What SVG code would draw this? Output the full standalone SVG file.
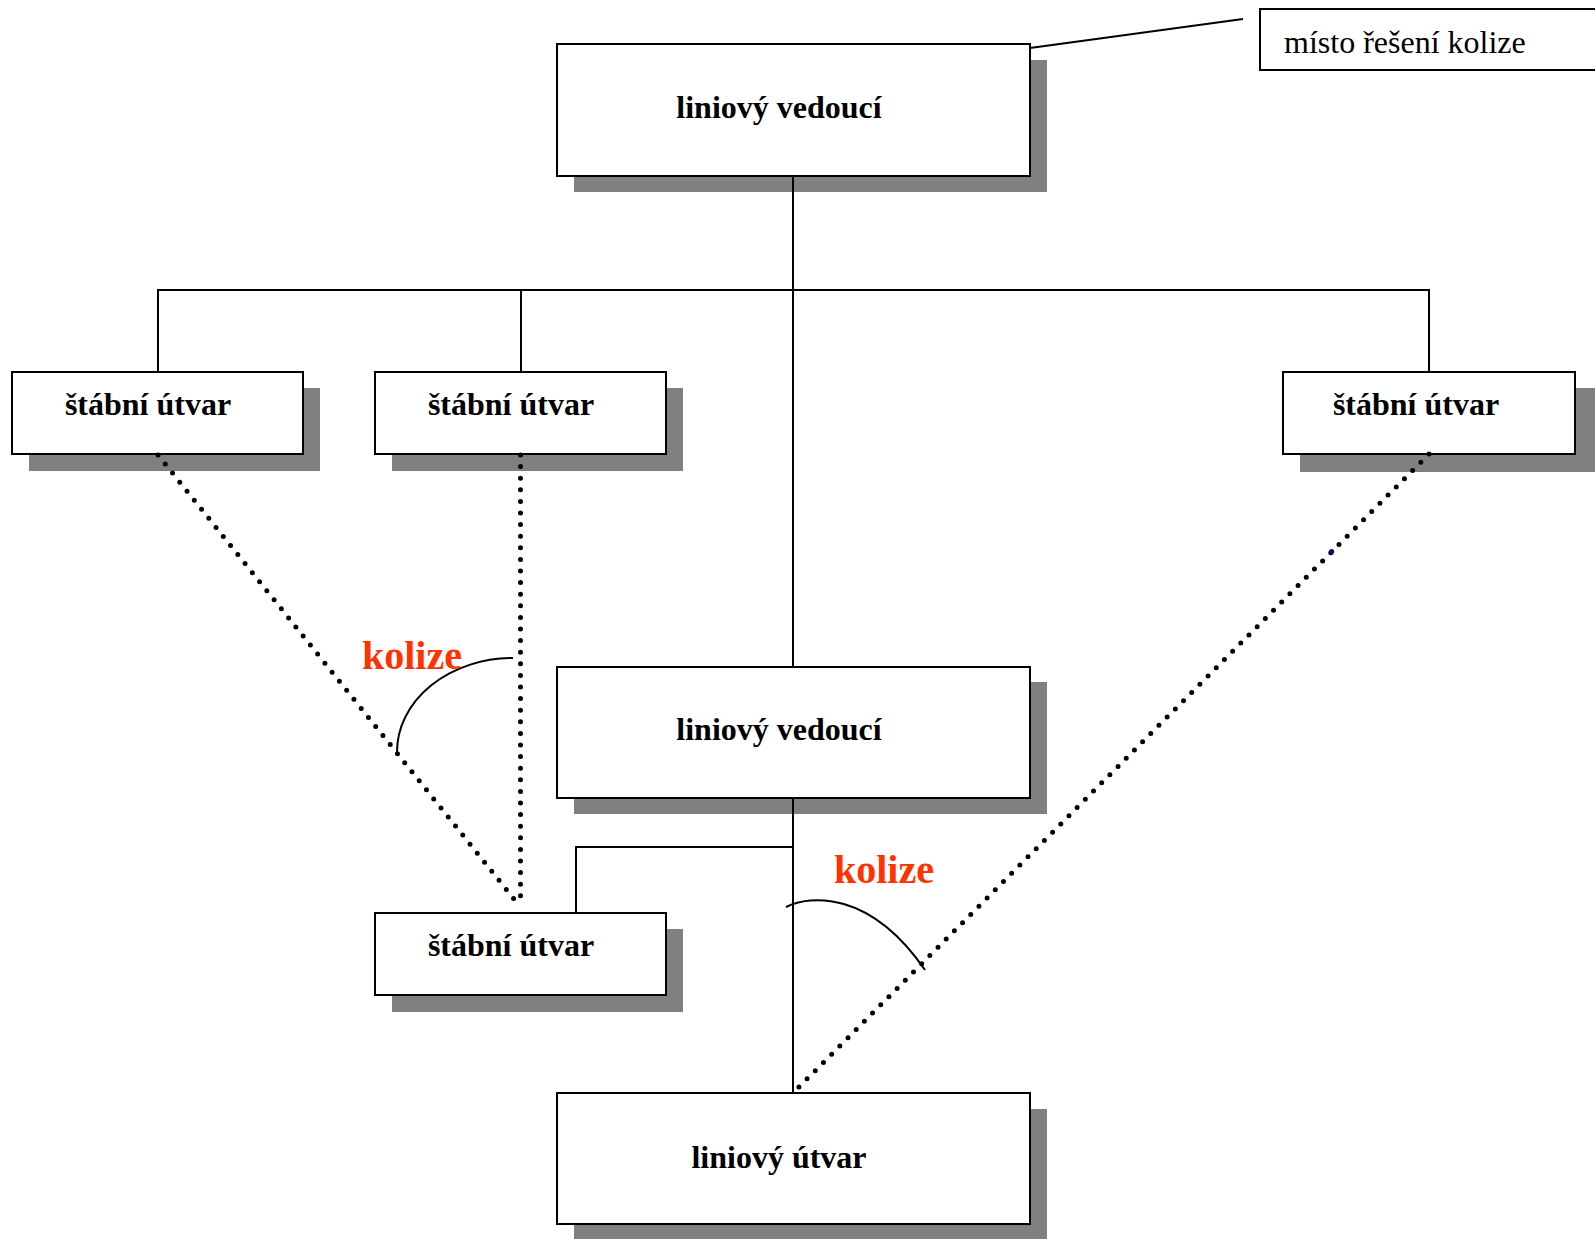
<svg xmlns="http://www.w3.org/2000/svg" width="1595" height="1239" viewBox="0 0 1595 1239">
<style>
.box{fill:#fff;stroke:#000;stroke-width:2}
.sh{fill:#808080}
.ln{fill:none;stroke:#000;stroke-width:2}
.dot{fill:none;stroke:#000;stroke-width:5;stroke-linecap:round;stroke-dasharray:0 11.6}
.t{font-family:"Liberation Serif","Times New Roman",serif;font-weight:bold;font-size:32px;fill:#000}
.tr{font-family:"Liberation Serif","Times New Roman",serif;font-size:32px;fill:#000}
.k{font-family:"Liberation Serif","Times New Roman",serif;font-weight:bold;font-size:40px;fill:#FF3300}
</style>
<rect width="1595" height="1239" fill="#fff"/>
<g id="callout">
<rect x="1260" y="9" width="345" height="61" class="box"/>
<text class="tr" x="1284" y="53">místo řešení kolize</text>
</g>
<g id="top-leader">
<rect x="574" y="60" width="473" height="132" class="sh"/>
<rect x="557" y="44" width="473" height="132" class="box"/>
<text class="t" x="779" y="118" text-anchor="middle">liniový vedoucí</text>
</g>
<g id="staff-1">
<rect x="29" y="388" width="291" height="83" class="sh"/>
<rect x="12" y="372" width="291" height="82" class="box"/>
<text class="t" x="148" y="415" text-anchor="middle">štábní útvar</text>
</g>
<g id="staff-2">
<rect x="392" y="388" width="291" height="83" class="sh"/>
<rect x="375" y="372" width="291" height="82" class="box"/>
<text class="t" x="511" y="415" text-anchor="middle">štábní útvar</text>
</g>
<g id="staff-3">
<rect x="1300" y="388" width="295" height="84" class="sh"/>
<rect x="1283" y="372" width="292" height="82" class="box"/>
<text class="t" x="1416" y="415" text-anchor="middle">štábní útvar</text>
</g>
<g id="middle-leader">
<rect x="574" y="682" width="473" height="132" class="sh"/>
<rect x="557" y="667" width="473" height="131" class="box"/>
<text class="t" x="779" y="740" text-anchor="middle">liniový vedoucí</text>
</g>
<g id="staff-4">
<rect x="392" y="929" width="291" height="83" class="sh"/>
<rect x="375" y="913" width="291" height="82" class="box"/>
<text class="t" x="511" y="956" text-anchor="middle">štábní útvar</text>
</g>
<g id="line-unit">
<rect x="574" y="1109" width="473" height="131" class="sh"/>
<rect x="557" y="1093" width="473" height="131" class="box"/>
<text class="t" x="779" y="1168" text-anchor="middle">liniový útvar</text>
</g>
<g id="connectors">
<line class="ln" x1="793" y1="176" x2="793" y2="667"/>
<polyline class="ln" points="158,372 158,290 1429,290 1429,372"/>
<line class="ln" x1="521" y1="290" x2="521" y2="372"/>
<line class="ln" x1="793" y1="798" x2="793" y2="1093"/>
<polyline class="ln" points="793,847 576,847 576,913"/>
<line class="ln" x1="1030" y1="48" x2="1243" y2="19"/>
<line class="dot" x1="158" y1="455" x2="518" y2="904"/>
<line class="dot" x1="520.5" y1="455" x2="520.5" y2="905"/>
<line class="dot" x1="1429" y1="454" x2="796" y2="1090"/>
<circle cx="1331.7" cy="551.5" r="2.5" fill="#000080"/>
<path class="ln" d="M 397 752 A 116 94 0 0 1 513 658"/>
<path class="ln" d="M 786 907 C 810 895 870 890 925 970"/>
</g>
<g id="labels">
<text class="k" x="362" y="669">kolize</text>
<text class="k" x="834" y="883">kolize</text>
</g>
</svg>
